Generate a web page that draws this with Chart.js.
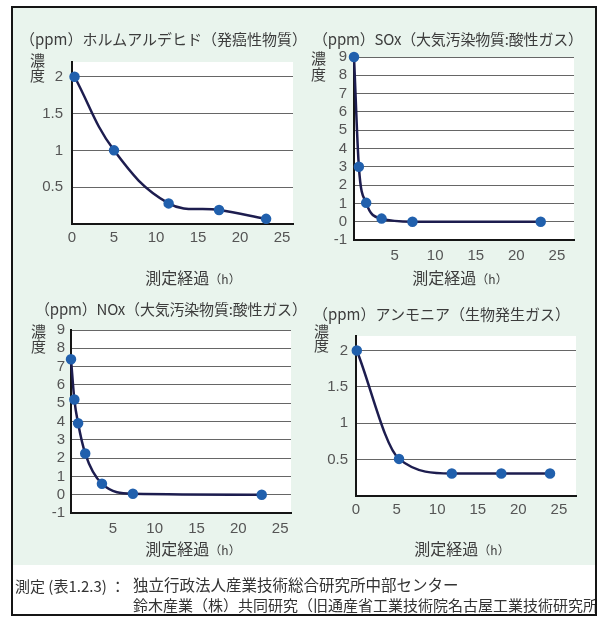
<!DOCTYPE html>
<html lang="ja">
<head>
<meta charset="utf-8">
<script src="https://cdn.jsdelivr.net/npm/chart.js@4.4.0/dist/chart.umd.min.js"></script>
<style>
  html, body { margin: 0; padding: 0; background: #fff; }
  #page { position: relative; width: 597px; height: 617px; overflow: hidden;
          font-family: "Noto Sans CJK JP", sans-serif; color: #3c3c3c; }
  #frame { position: absolute; left: 11px; top: 6px; width: 582px; height: 606px;
           border: 2px solid #151515; background: #fff; }
  #tint { position: absolute; left: 13px; top: 8px; width: 582px; height: 557px; background: #e9f4ed; }
  #footer { position: absolute; left: 13px; top: 565px; width: 582px; height: 49px; overflow: hidden; }
  canvas { position: absolute; left: 0; top: 0; }
  .t { position: absolute; white-space: nowrap; line-height: 1; transform: translateY(-50%); }
  .title { font-size: 15px; }
  .unit { font-size: 15px; }
  .xt { font-size: 16px; transform: translate(-50%, -50%); }
  .xt small { font-size: 12px; }
  .foot { font-size: 15.5px; color: #333; }
</style>
</head>
<body>
<div id="page">
  <div id="frame"></div>
  <div id="tint"></div>

  <canvas id="c1" width="597" height="617"></canvas>
  <canvas id="c2" width="597" height="617"></canvas>
  <canvas id="c3" width="597" height="617"></canvas>
  <canvas id="c4" width="597" height="617"></canvas>

  <div class="t title" style="left:20px; top:38px;">（ppm）ホルムアルデヒド（発癌性物質）</div>
  <div class="t title" style="left:313px; top:38px; letter-spacing:-0.2px;">（ppm）SOx（大気汚染物質:酸性ガス）</div>
  <div class="t title" style="left:35px; top:308px; letter-spacing:-0.2px;">（ppm）NOx（大気汚染物質:酸性ガス）</div>
  <div class="t title" style="left:313px; top:313px;">（ppm）アンモニア（生物発生ガス）</div>

  <div class="t unit" style="left:30px; top:59px;">濃</div>
  <div class="t unit" style="left:30px; top:74px;">度</div>
  <div class="t unit" style="left:311px; top:57px;">濃</div>
  <div class="t unit" style="left:311px; top:73px;">度</div>
  <div class="t unit" style="left:31px; top:330px;">濃</div>
  <div class="t unit" style="left:31px; top:345px;">度</div>
  <div class="t unit" style="left:314px; top:330px;">濃</div>
  <div class="t unit" style="left:314px; top:344px;">度</div>

  <div class="t xt" style="left:193px; top:277px;">測定経過<small>（h）</small></div>
  <div class="t xt" style="left:460px; top:277px;">測定経過<small>（h）</small></div>
  <div class="t xt" style="left:193px; top:548px;">測定経過<small>（h）</small></div>
  <div class="t xt" style="left:462px; top:548px;">測定経過<small>（h）</small></div>

  <div id="footer">
    <div class="t foot" style="left:2px; top:20px; font-size:15px;">測定 (表1.2.3) ：</div>
    <div class="t foot" style="left:120px; top:20px;">独立行政法人産業技術総合研究所中部センター</div>
    <div class="t foot" style="left:120px; top:39px; font-size:15px;">鈴木産業（株）共同研究（旧通産省工業技術院名古屋工業技術研究所）</div>
  </div>
</div>

<script>
const hchoHours = [0.3, 5, 11.5, 17.5, 23.1];
const hchoPpm   = [2.0, 1.0, 0.28, 0.19, 0.07];

const soxHours = [0, 0.6, 1.5, 3.4, 7.2, 23.0];
const soxPpm   = [9, 3, 1.03, 0.17, 0, 0];

const noxHours = [0, 0.4, 0.85, 1.7, 3.7, 7.4, 22.8];
const noxPpm   = [7.4, 5.2, 3.9, 2.25, 0.6, 0.05, 0];

const nh3Hours = [0.1, 5.3, 11.8, 17.9, 23.9];
const nh3Ppm   = [2.0, 0.51, 0.31, 0.31, 0.31];

// tick labels
const hourTicks  = [0, 5, 10, 15, 20, 25];
const smallTicks = [0, 0.5, 1, 1.5, 2];
const gasTicks   = [-1, 0, 1, 2, 3, 4, 5, 6, 7, 8, 9];

const LINE = '#1d1d4f';
const DOT = '#2160ad';
const TICK_FONT = { family: 'Liberation Sans', size: 15 };

// white plot area, like the printed figure
const plotBg = {
  id: 'plotBg',
  beforeDraw(chart) {
    const a = chart.chartArea;
    chart.ctx.save();
    chart.ctx.fillStyle = '#fff';
    chart.ctx.fillRect(a.left, a.top, a.right - a.left, a.bottom - a.top);
    chart.ctx.restore();
  }
};

function makePanel(id, hours, ppm, o) {
  const yw = 40, xh = 40;
  return new Chart(document.getElementById(id), {
    type: 'line',
    data: {
      datasets: [{
        data: hours.map((h, i) => ({ x: h, y: ppm[i] })),
        borderColor: LINE,
        borderWidth: 2.5,
        pointBackgroundColor: DOT,
        pointBorderColor: DOT,
        pointRadius: 4,
        tension: 0.4,
        cubicInterpolationMode: o.mode,
        clip: false
      }]
    },
    options: {
      responsive: false,
      animation: false,
      events: [],
      layout: {
        padding: { left: o.area.l - yw, top: o.area.t, right: 597 - o.area.r, bottom: 617 - o.area.b - xh }
      },
      plugins: { legend: { display: false }, tooltip: { enabled: false } },
      scales: {
        x: {
          type: 'linear', min: 0, max: o.xMax,
          afterFit: s => { s.height = xh; },
          afterBuildTicks: s => { s.ticks = hourTicks.map(v => ({ value: v })); },
          ticks: {
            padding: o.xPad, font: TICK_FONT, color: '#555', maxRotation: 0, autoSkip: false,
            callback: v => (v === 0 && !o.showX0) ? '' : v
          },
          grid: { display: false, drawTicks: false },
          border: { display: true, color: '#151515', width: 2 }
        },
        y: {
          min: o.yTicks[0], max: o.yMax,
          afterFit: s => { s.width = yw; },
          afterBuildTicks: s => { s.ticks = o.yTicks.map(v => ({ value: v })); },
          ticks: {
            padding: o.yPad, font: TICK_FONT, color: '#555', autoSkip: false,
            callback: v => (v === 0 && !o.showY0) ? '' : v
          },
          grid: {
            drawTicks: false, lineWidth: 1,
            color: c => (c.tick && c.tick.value === o.yTicks[0]) ? 'rgba(0,0,0,0)' : '#666'
          },
          border: { display: true, color: '#151515', width: 2 }
        }
      }
    },
    plugins: [plotBg]
  });
}

makePanel('c1', hchoHours, hchoPpm, {
  area: { l: 72, t: 62, r: 293, b: 224 }, xMax: 26.3, yMax: 2.2, yTicks: smallTicks,
  showX0: true, showY0: false, xPad: 5, yPad: 9, mode: 'default'
});
makePanel('c2', soxHours, soxPpm, {
  area: { l: 354, t: 57, r: 574, b: 240 }, xMax: 27.1, yMax: 9, yTicks: gasTicks,
  showX0: false, showY0: true, xPad: 7, yPad: 7, mode: 'monotone'
});
makePanel('c3', noxHours, noxPpm, {
  area: { l: 71, t: 330, r: 291, b: 513 }, xMax: 26.3, yMax: 9, yTicks: gasTicks,
  showX0: false, showY0: true, xPad: 7, yPad: 6, mode: 'monotone'
});
makePanel('c4', nh3Hours, nh3Ppm, {
  area: { l: 356, t: 336, r: 576, b: 496 }, xMax: 27.1, yMax: 2.2, yTicks: smallTicks,
  showX0: true, showY0: false, xPad: 5, yPad: 8, mode: 'monotone'
});
</script>
</body>
</html>
